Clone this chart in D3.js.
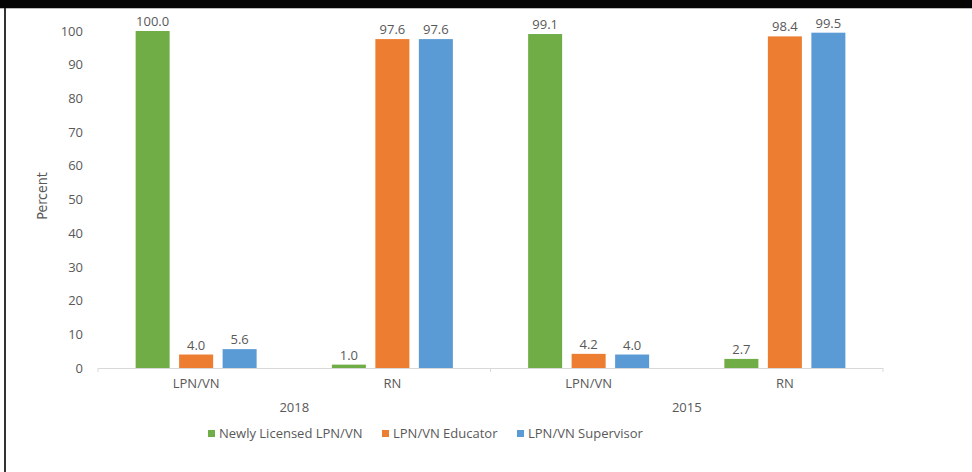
<!DOCTYPE html>
<html lang="en">
<head>
<meta charset="utf-8">
<title>Percent by role</title>
<script src="https://cdnjs.cloudflare.com/ajax/libs/d3/7.8.5/d3.min.js"></script>
<style>
  body { margin: 0; background: #fff; }
  text { font-family: "Open Sans", "DejaVu Sans", sans-serif; }
</style>
</head>
<body>
<script>
  // data
  var years = ["2018", "2015"];
  var categories = ["LPN/VN", "RN"];
  var seriesNames = ["Newly Licensed LPN/VN", "LPN/VN Educator", "LPN/VN Supervisor"];
  var seriesColors = ["#70AD47", "#ED7D31", "#5B9BD5"];
  var values2018 = [[100.0, 4.0, 5.6], [1.0, 97.6, 97.6]];
  var values2015 = [[99.1, 4.2, 4.0], [2.7, 98.4, 99.5]];
  var yTicks = [0, 10, 20, 30, 40, 50, 60, 70, 80, 90, 100];

  var w = 972, h = 472;
  var plotLeft = 98, plotRight = 883, plotTop = 31, plotBottom = 368;

  var svg = d3.select("body").append("svg")
              .attr("width", w)
              .attr("height", h);

  // frame: black band on top, dark rule on the left
  svg.append("rect").attr("x", 0).attr("y", 0).attr("width", w).attr("height", 8).attr("fill", "#050505");
  svg.append("line").attr("x1", 0).attr("x2", w).attr("y1", 8.5).attr("y2", 8.5).attr("stroke", "#bbb");
  svg.append("line").attr("x1", 5).attr("x2", 5).attr("y1", 8).attr("y2", h).attr("stroke", "#333").attr("stroke-width", 2);

  var rows = [];
  years.forEach(function(y, yi) {
    var vals = yi == 0 ? values2018 : values2015;
    categories.forEach(function(c, ci) {
      rows.push({ key: y + "|" + c, year: y, cat: c, values: vals[ci] });
    });
  });

  var x0 = d3.scaleBand().domain(rows.map(function(d) { return d.key; })).range([plotLeft, plotRight]);
  var x1 = d3.scaleBand().domain(seriesNames).range([0, x0.bandwidth()])
             .paddingInner(0.218).paddingOuter(0.865);
  var yScale = d3.scaleLinear().domain([0, 100]).range([plotBottom, plotTop]);

  // y axis labels
  var yAxis = svg.append("g")
                 .attr("transform", "translate(" + plotLeft + ",0)")
                 .call(d3.axisLeft(yScale).tickValues(yTicks).tickSize(0).tickPadding(15));
  yAxis.select(".domain").remove();
  yAxis.selectAll("text")
       .attr("fill", "#595959")
       .style("font-size", "13px")
       .style("font-family", "'Open Sans', sans-serif");

  svg.append("text")
     .attr("transform", "translate(47,196) rotate(-90)")
     .attr("text-anchor", "middle")
     .style("font-family", "'Liberation Sans Narrow', 'DejaVu Sans Condensed', sans-serif")
     .style("font-size", "14px")
     .attr("fill", "#595959")
     .text("Percent");

  // bars
  var groups = svg.selectAll("g.cat")
                  .data(rows)
                  .enter()
                  .append("g")
                  .attr("class", "cat")
                  .attr("transform", function(d) { return "translate(" + x0(d.key) + ",0)"; });

  groups.selectAll("rect")
        .data(function(d) { return d.values.map(function(v, i) { return { name: seriesNames[i], v: v, i: i }; }); })
        .enter()
        .append("rect")
        .attr("x", function(d) { return x1(d.name); })
        .attr("y", function(d) { return yScale(d.v); })
        .attr("width", x1.bandwidth())
        .attr("height", function(d) { return plotBottom - yScale(d.v); })
        .attr("fill", function(d) { return seriesColors[d.i]; });

  groups.selectAll("text.val")
        .data(function(d) { return d.values.map(function(v, i) { return { name: seriesNames[i], v: v }; }); })
        .enter()
        .append("text")
        .attr("class", "val")
        .attr("x", function(d) { return x1(d.name) + x1.bandwidth() / 2; })
        .attr("y", function(d) { return yScale(d.v) - 5; })
        .attr("text-anchor", "middle")
        .style("font-size", "13px")
        .attr("fill", "#595959")
        .text(function(d) { return d.v.toFixed(1); });

  // x axis line and group ticks
  svg.append("line")
     .attr("x1", plotLeft).attr("x2", plotRight)
     .attr("y1", plotBottom + 0.5).attr("y2", plotBottom + 0.5)
     .attr("stroke", "#d9d9d9");
  var tickXs = [x0(rows[0].key), x0(rows[2].key), x0(rows[3].key) + x0.bandwidth()];
  svg.selectAll("line.gtick")
     .data(tickXs)
     .enter()
     .append("line")
     .attr("class", "gtick")
     .attr("x1", function(d) { return d; }).attr("x2", function(d) { return d; })
     .attr("y1", plotBottom).attr("y2", plotBottom + 4)
     .attr("stroke", "#d9d9d9");

  // category labels
  svg.selectAll("text.cat")
     .data(rows)
     .enter()
     .append("text")
     .attr("class", "cat")
     .attr("x", function(d) { return x0(d.key) + x0.bandwidth() / 2; })
     .attr("y", 388)
     .attr("text-anchor", "middle")
     .style("font-size", "13px")
     .attr("fill", "#595959")
     .text(function(d) { return d.cat; });

  // year labels
  svg.selectAll("text.year")
     .data(years)
     .enter()
     .append("text")
     .attr("class", "year")
     .attr("x", function(d, i) { return x0(rows[i * 2].key) + x0.bandwidth(); })
     .attr("y", 412)
     .attr("text-anchor", "middle")
     .style("font-size", "13px")
     .attr("fill", "#595959")
     .text(function(d) { return d; });

  // legend
  var legendX = [208, 382, 517];
  var legend = svg.selectAll("g.legend")
                  .data(seriesNames)
                  .enter()
                  .append("g")
                  .attr("class", "legend")
                  .attr("transform", function(d, i) { return "translate(" + legendX[i] + ",430)"; });
  legend.append("rect")
        .attr("x", 0).attr("y", 0)
        .attr("width", 7).attr("height", 7)
        .attr("fill", function(d, i) { return seriesColors[i]; });
  legend.append("text")
        .attr("x", 11).attr("y", 8)
        .style("font-size", "13px")
        .attr("fill", "#595959")
        .text(function(d) { return d; });
</script>
</body>
</html>
